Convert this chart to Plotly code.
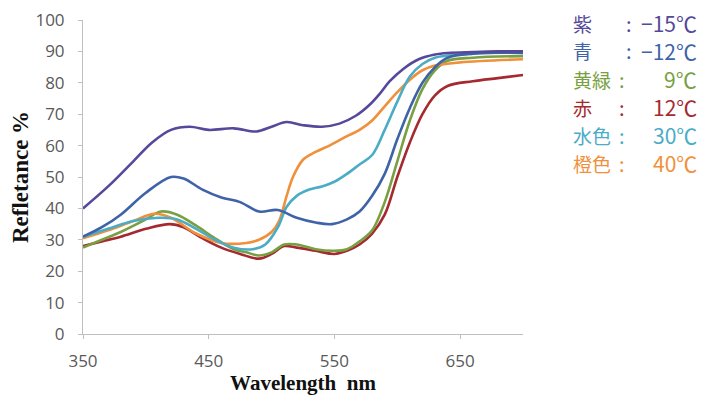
import plotly.graph_objects as go

# ---- data ----
wl_purple = [350, 370, 390, 405, 420, 435, 450, 470, 488, 500, 512, 525, 540, 554, 567, 578, 586, 594, 605, 617, 630, 640, 660, 680, 700]
v_purple  = [40, 47, 55, 61, 65, 66, 65, 65.5, 64.5, 66, 67.5, 66.5, 66, 67, 69.5, 73, 76.5, 80.5, 84.5, 87.5, 89, 89.5, 89.8, 90, 90]

wl_blue = [350, 365, 380, 400, 420, 430, 445, 460, 475, 490, 505, 520, 535, 548, 560, 570, 580, 590, 600, 610, 620, 630, 640, 660, 700]
v_blue  = [31, 34, 38, 45, 50, 49.5, 46, 43.5, 42, 39, 39.5, 37, 35.5, 35, 36.5, 39, 44, 51, 62, 72, 80, 85, 88, 89.3, 89.5]

wl_green = [350, 365, 380, 400, 412, 425, 440, 455, 470, 480, 490, 500, 510, 520, 535, 550, 560, 570, 580, 590, 600, 610, 620, 630, 640, 660, 700]
v_green  = [27.5, 30, 32.5, 36.5, 39, 38, 34.5, 30.5, 27, 26, 25, 26, 28.5, 28.5, 27, 26.5, 27, 29.5, 33, 42, 55, 68, 78, 84, 87, 88, 88.5]

wl_red = [350, 365, 380, 400, 419, 430, 445, 460, 475, 490, 500, 510, 520, 535, 550, 560, 570, 580, 590, 600, 610, 620, 630, 640, 660, 680, 700]
v_red  = [28, 29.5, 31, 33.5, 35, 34, 30.5, 27.5, 25.5, 24, 25.5, 28, 27.5, 26.5, 25.5, 26.5, 28.5, 32, 38, 50, 61, 70, 76, 79, 80.5, 81.5, 82.5]

wl_cyan = [350, 370, 390, 410, 425, 440, 455, 470, 485, 495, 505, 512, 520, 530, 540, 550, 560, 570, 580, 590, 600, 610, 620, 630, 650, 700]
v_cyan  = [31, 33.5, 36, 37, 36.5, 33.5, 30, 27.5, 27, 28.5, 34, 40.5, 44, 46, 47, 48.5, 51, 54, 57, 65, 74, 82, 86, 88, 89, 90]

wl_orange = [350, 370, 390, 407, 420, 440, 460, 480, 490, 500, 506, 512, 517, 525, 535, 546, 560, 570, 580, 590, 600, 610, 620, 630, 650, 700]
v_orange  = [30.5, 33, 36, 38.3, 37, 32, 29, 29, 30, 32.5, 36, 44, 50, 55.5, 58, 60, 63, 65, 68, 72.5, 77, 81, 84, 85.5, 86.5, 87.5]

series_names = ["紫", "青", "黄緑", "赤", "水色", "橙色"]
series_temps = ["−15℃", "−12℃", "9℃", "12℃", "30℃", "40℃"]
colors = ["#56489A", "#3E63A6", "#78A043", "#A52A30", "#4BACC6", "#F0903A"]

x_ticks = [350, 450, 550, 650]
y_ticks = list(range(0, 101, 10))

xs = [wl_purple, wl_blue, wl_green, wl_red, wl_cyan, wl_orange]
ys = [v_purple, v_blue, v_green, v_red, v_cyan, v_orange]

fig = go.Figure()
order = [3, 2, 5, 4, 1, 0]
for i in order:
    fig.add_trace(go.Scatter(x=xs[i], y=ys[i], mode="lines",
                             line=dict(color=colors[i], width=2.6, shape="spline", smoothing=1.0),
                             showlegend=False, hoverinfo="skip"))

# page offset (body margin) = 8px
OFF = 8
W, H = 707 - 2 * OFF, 403 - 2 * OFF
PL, PR, PT, PB = 83 - OFF, 523 - OFF, 20 - OFF, 334 - OFF

def px(x):
    return (x - OFF - PL) / (PR - PL)
def py(y):
    return 1 - (y - OFF - PT) / (PB - PT)

row_y0 = 23
row_dy = 28
FAM = "Noto Sans CJK JP"
for k in range(6):
    yy = row_y0 + k * row_dy
    fig.add_annotation(xref="paper", yref="paper", x=px(571), y=py(yy),
                       text=series_names[k], showarrow=False, xanchor="left", yanchor="middle",
                       font=dict(color=colors[k], size=19, family=FAM))
    colon_x = 624 if k < 2 else 617
    fig.add_annotation(xref="paper", yref="paper", x=px(colon_x), y=py(yy),
                       text=":", showarrow=False, xanchor="left", yanchor="middle",
                       font=dict(color=colors[k], size=20, family=FAM))
    fig.add_annotation(xref="paper", yref="paper", x=px(699), y=py(yy),
                       text=series_temps[k], showarrow=False, xanchor="right", yanchor="middle",
                       font=dict(color=colors[k], size=21, family=FAM))

fig.update_layout(
    width=W, height=H,
    margin=dict(l=PL, r=W - PR, t=PT, b=H - PB, autoexpand=False),
    plot_bgcolor="white", paper_bgcolor="white",
    showlegend=False,
)
fig.update_xaxes(range=[350, 700], tickvals=x_ticks, ticktext=[str(v) for v in x_ticks],
                 showgrid=False, zeroline=False, showline=True, linecolor="#BFBFBF", linewidth=1,
                 ticks="outside", ticklen=4, tickcolor="#BFBFBF", ticklabelstandoff=8,
                 automargin=False, ticklabeloverflow="allow",
                 tickfont=dict(family="Open Sans", size=17, color="#595959"),
                 title=dict(text="<b>Wavelength\u00a0\u00a0nm</b>", standoff=8,
                            font=dict(family="Liberation Serif", size=21, color="#111111")))
fig.update_yaxes(range=[0, 100], tickvals=y_ticks, showgrid=False, zeroline=False,
                 showline=True, linecolor="#BFBFBF", linewidth=1,
                 ticks="outside", ticklen=4, tickcolor="#BFBFBF", ticklabelstandoff=10,
                 automargin=False, ticklabeloverflow="allow",
                 tickfont=dict(family="Open Sans", size=17, color="#595959"),
                 title=dict(text="<b>Refletance %</b>", standoff=12,
                            font=dict(family="Liberation Serif", size=23, color="#111111")))

fig.write_html("out.html")
